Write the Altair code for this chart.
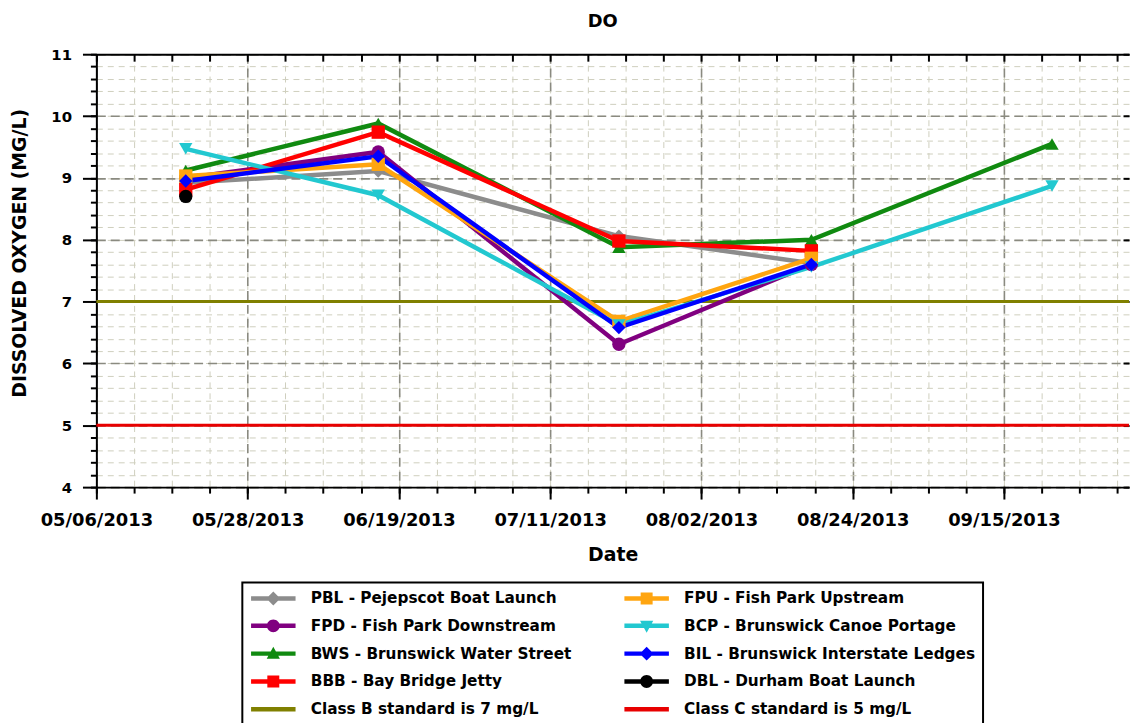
import altair as alt
import pandas as pd

# ---------------- data ----------------
dates = ["2013-05-19", "2013-06-16", "2013-07-21", "2013-08-18", "2013-09-22"]

series_names = [
    "PBL - Pejepscot Boat Launch",
    "FPD - Fish Park Downstream",
    "BWS - Brunswick Water Street",
    "BBB - Bay Bridge Jetty",
    "FPU - Fish Park Upstream",
    "BCP - Brunswick Canoe Portage",
    "BIL - Brunswick Interstate Ledges",
    "DBL - Durham Boat Launch",
]
pbl = [8.92, 9.11, 8.06, 7.62, None]
fpd = [9.00, 9.42, 6.31, 7.60, None]
bws = [9.12, 9.88, 7.88, 8.00, 9.55]
bbb = [8.81, 9.74, 7.98, 7.82, None]
fpu = [9.03, 9.22, 6.68, 7.70, None]
bcp = [9.47, 8.72, 6.62, 7.56, 8.87]
bil = [8.95, 9.35, 6.58, 7.60, None]
dbl = [8.70, None, None, None, None]
series_values = [pbl, fpd, bws, bbb, fpu, bcp, bil, dbl]
series_markers = ["diamond", "circle", "triangle-up", "square",
                  "square", "triangle-down", "diamond", "circle"]
series_colors = ["#8c8c8c", "#800080", "#108a10", "#ff0000",
                 "#ffa510", "#22c8d0", "#0000ff", "#000000"]

standard_names = ["Class B standard is 7 mg/L", "Class C standard is 5 mg/L"]
standard_values = [7, 5]
standard_colors = ["#808000", "#e80000"]

major_dates = ["2013-05-06", "2013-05-28", "2013-06-19", "2013-07-11",
               "2013-08-02", "2013-08-24", "2013-09-15"]
y_major = [4, 5, 6, 7, 8, 9, 10, 11]

# legend: column-major, two columns of five
legend_order = series_names[:4] + [standard_names[0]] + series_names[4:] + [standard_names[1]]
legend_colors = series_colors[:4] + [standard_colors[0]] + series_colors[4:] + [standard_colors[1]]

# ---------------- tables ----------------
rows = []
for name, vals, mk in zip(series_names, series_values, series_markers):
    for d, v in zip(dates, vals):
        if v is not None:
            rows.append({"date": d, "value": v, "series": name, "marker": mk})
df = pd.DataFrame(rows)
std_df = pd.DataFrame({"series": standard_names, "value": standard_values})
leg_df = pd.DataFrame({"series": legend_order})


def ms(s):
    return int(pd.Timestamp(s, tz="UTC").value // 10**6)


DAY = 86400000
x0 = ms("2013-05-06")
x_domain = [x0, x0 + int(150.2 * DAY)]
x_major_vals = [ms(d) for d in major_dates]
x_minor_vals = [x0 + int(i * 5.5 * DAY) for i in range(0, 28)]
y_minor_vals = [round(4 + 0.2 * i, 1) for i in range(0, 36)]

FONT = "DejaVu Sans"
xscale = alt.Scale(type="utc", domain=x_domain)
yscale = alt.Scale(domain=[4, 11], nice=False, zero=False)

# legend symbols: line + marker (path units of 7 px), all wound clockwise
BAR = "M-3.2,-0.32L3.2,-0.32L3.2,0.32L-3.2,0.32Z"
MARKER_PATHS = {
    "diamond": "M0,-1L1,0L0,1L-1,0Z",
    "circle": "M-0.93,0A0.93,0.93,0,1,1,0.93,0A0.93,0.93,0,1,1,-0.93,0Z",
    "triangle-up": "M0,-1L0.95,0.75L-0.95,0.75Z",
    "triangle-down": "M0,1L-0.95,-0.75L0.95,-0.75Z",
    "square": "M-0.86,-0.86L0.86,-0.86L0.86,0.86L-0.86,0.86Z",
}
sym_by_name = {n: BAR + MARKER_PATHS[m] for n, m in zip(series_names, series_markers)}
for n in standard_names:
    sym_by_name[n] = BAR
legend_shapes = [sym_by_name[n] for n in legend_order]

color_scale = alt.Scale(domain=legend_order, range=legend_colors)
color_enc = alt.Color("series:N", scale=color_scale, legend=None)

# ---------------- layers ----------------
rules = alt.Chart(std_df).mark_rule(strokeWidth=3).encode(
    y=alt.Y("value:Q", scale=yscale, axis=None),
    color=color_enc,
)

lines = alt.Chart(df).mark_line(strokeWidth=4.5).encode(
    x=alt.X("date:T", scale=xscale, axis=alt.Axis(
        orient="bottom", values=x_minor_vals, labels=False, title=None, domain=False,
        tickSize=6, tickWidth=2, tickColor="black",
        grid=True, gridColor="#cfcfbd", gridDash=[6, 5], gridWidth=1)),
    y=alt.Y("value:Q", scale=yscale, axis=alt.Axis(
        orient="left", values=y_minor_vals, labels=False, title=None, domain=False,
        tickSize=6, tickWidth=2, tickColor="black",
        grid=True, gridColor="#cfcfbd", gridDash=[6, 5], gridWidth=1)),
    color=color_enc,
)

points = alt.Chart(df).mark_point(filled=True, size=180, opacity=1).encode(
    x=alt.X("date:T", scale=xscale, axis=alt.Axis(
        orient="bottom", values=x_major_vals, format="%m/%d/%Y",
        labelFont=FONT, labelFontSize=18, labelFontWeight="bold", labelColor="black",
        labelBaseline="alphabetic", labelPadding=27, labelFlush=False, labelOverlap=False,
        domain=True, domainColor="black", domainWidth=2,
        tickSize=12, tickWidth=2, tickColor="black",
        grid=True, gridColor="#8a8a80", gridDash=[9, 5], gridWidth=1.6,
        title="Date", titleFont=FONT, titleFontSize=19, titleFontWeight="bold",
        titleColor="black", titleBaseline="alphabetic", titleY=74)),
    y=alt.Y("value:Q", scale=yscale, axis=alt.Axis(
        orient="left", values=y_major, format="d",
        labelFont=FONT, labelFontSize=15, labelFontWeight="bold", labelColor="black",
        labelPadding=11,
        domain=True, domainColor="black", domainWidth=2,
        tickSize=14, tickWidth=2, tickColor="black",
        grid=True, gridColor="#8a8a80", gridDash=[9, 5], gridWidth=1.6,
        title="DISSOLVED OXYGEN (MG/L)", titleFont=FONT, titleFontSize=19,
        titleFontWeight="bold", titleColor="black", titleAngle=270,
        titleAlign="center", titleBaseline="middle", titleX=-77, titleY=200)),
    color=color_enc,
    shape=alt.Shape("marker:N", scale=None, legend=None),
)

inner_ticks = alt.Chart(df).mark_point(opacity=0).encode(
    x=alt.X("date:T", scale=xscale, axis=alt.Axis(
        orient="top", values=x_minor_vals, labels=False, title=None, domain=False,
        offset=-7, tickSize=7, tickWidth=2, tickColor="black", grid=False)),
    y=alt.Y("value:Q", scale=yscale, axis=alt.Axis(
        orient="right", values=y_major, labels=False, title=None, domain=False,
        offset=-6, tickSize=6, tickWidth=2, tickColor="black", grid=False)),
)

top_border = alt.Chart(df).mark_point(opacity=0).encode(
    x=alt.X("date:T", scale=xscale, axis=alt.Axis(
        orient="top", labels=False, ticks=False, title=None, grid=False,
        domain=True, domainColor="black", domainWidth=2)),
    y=alt.Y("value:Q", scale=yscale, axis=None),
)

legend_props = dict(
    orient="none", legendX=147, legendY=532, columns=2, title=None,
    strokeColor="black", padding=8, symbolSize=196,
    symbolStrokeWidth=0, symbolOpacity=1, symbolOffset=15.5,
    labelFont=FONT, labelFontSize=15.4, labelFontWeight="bold",
    labelColor="black", labelOffset=30, labelLimit=0,
    rowPadding=11, columnPadding=52, fillColor="white",
)

legend_layer = alt.Chart(leg_df).mark_point(filled=True, opacity=1).encode(
    color=alt.Color("series:N", scale=alt.Scale(domain=legend_order, range=legend_colors),
                    legend=alt.Legend(**legend_props)),
    shape=alt.Shape("series:N", scale=alt.Scale(domain=legend_order, range=legend_shapes),
                    legend=alt.Legend(**legend_props)),
).transform_filter("false")

chart = alt.layer(rules, lines, points, inner_ticks, top_border, legend_layer).resolve_scale(
    x="shared", y="shared", color="independent", shape="independent"
).resolve_axis(
    x="independent", y="independent"
).resolve_legend(
    color="independent", shape="independent"
).properties(
    width=1040, height=436,
    title=alt.Title("DO", font=FONT, fontSize=18, fontWeight="bold", color="black",
                    anchor="middle", dx=-10, offset=2.5, baseline="alphabetic"),
    autosize=alt.AutoSizeParams(type="none"),
    padding={"left": 89, "top": 44, "right": 1, "bottom": 235},
).configure(
    font=FONT, background="white"
).configure_view(
    fill="#fdfce2", stroke=None
).configure_legend(
    strokeWidth=2
)

chart.save("out.html", embed_options={"renderer": "svg", "actions": False})
